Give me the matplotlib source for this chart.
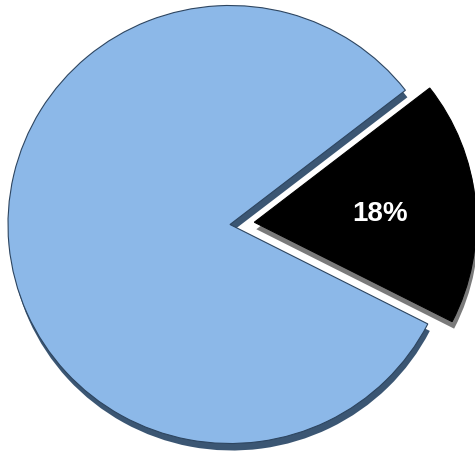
import matplotlib.pyplot as plt

# share of each slice (percent)
labels = ["Black", "Blue"]
values = [18, 82]
colors = ["#000000", "#8cb8e8"]
shadow_colors = ["#7a7a7a", "#3b5673"]
explode = [0.11, 0.0]

fig = plt.figure(figsize=(4.75, 4.53), dpi=100)
ax = fig.add_axes([0, 0, 1, 1])

# pixel scale of the pie: centre and radii as seen in the figure
cx_px, cy_px = 230, 453 - 224.5
rx_px, ry_px = 222, 219
start = -27

# drop shadow first, shifted a little down and to the right
ax.pie(values, colors=shadow_colors, explode=explode, startangle=start,
       center=(2 / rx_px, -7 / ry_px),
       wedgeprops=dict(linewidth=0))

wedges, texts, autotexts = ax.pie(
    values, colors=colors, explode=explode, startangle=start,
    autopct=lambda p: f"{p:.0f}%" if p < 50 else "",
    pctdistance=0.57,
    wedgeprops=dict(linewidth=0.8, edgecolor="#2d4560"),
    textprops=dict(color="white", fontsize=20, fontweight="bold",
                   family=["Liberation Sans", "DejaVu Sans"]))
wedges[0].set_edgecolor("#000000")
x, y = autotexts[0].get_position()
autotexts[0].set_position((x, y - 0.015))

ax.set_aspect("auto")
ax.set_xlim(-cx_px / rx_px, (475 - cx_px) / rx_px)
ax.set_ylim(-cy_px / ry_px, (453 - cy_px) / ry_px)
ax.axis("off")

fig.savefig("out.png", dpi=100, facecolor="white")
